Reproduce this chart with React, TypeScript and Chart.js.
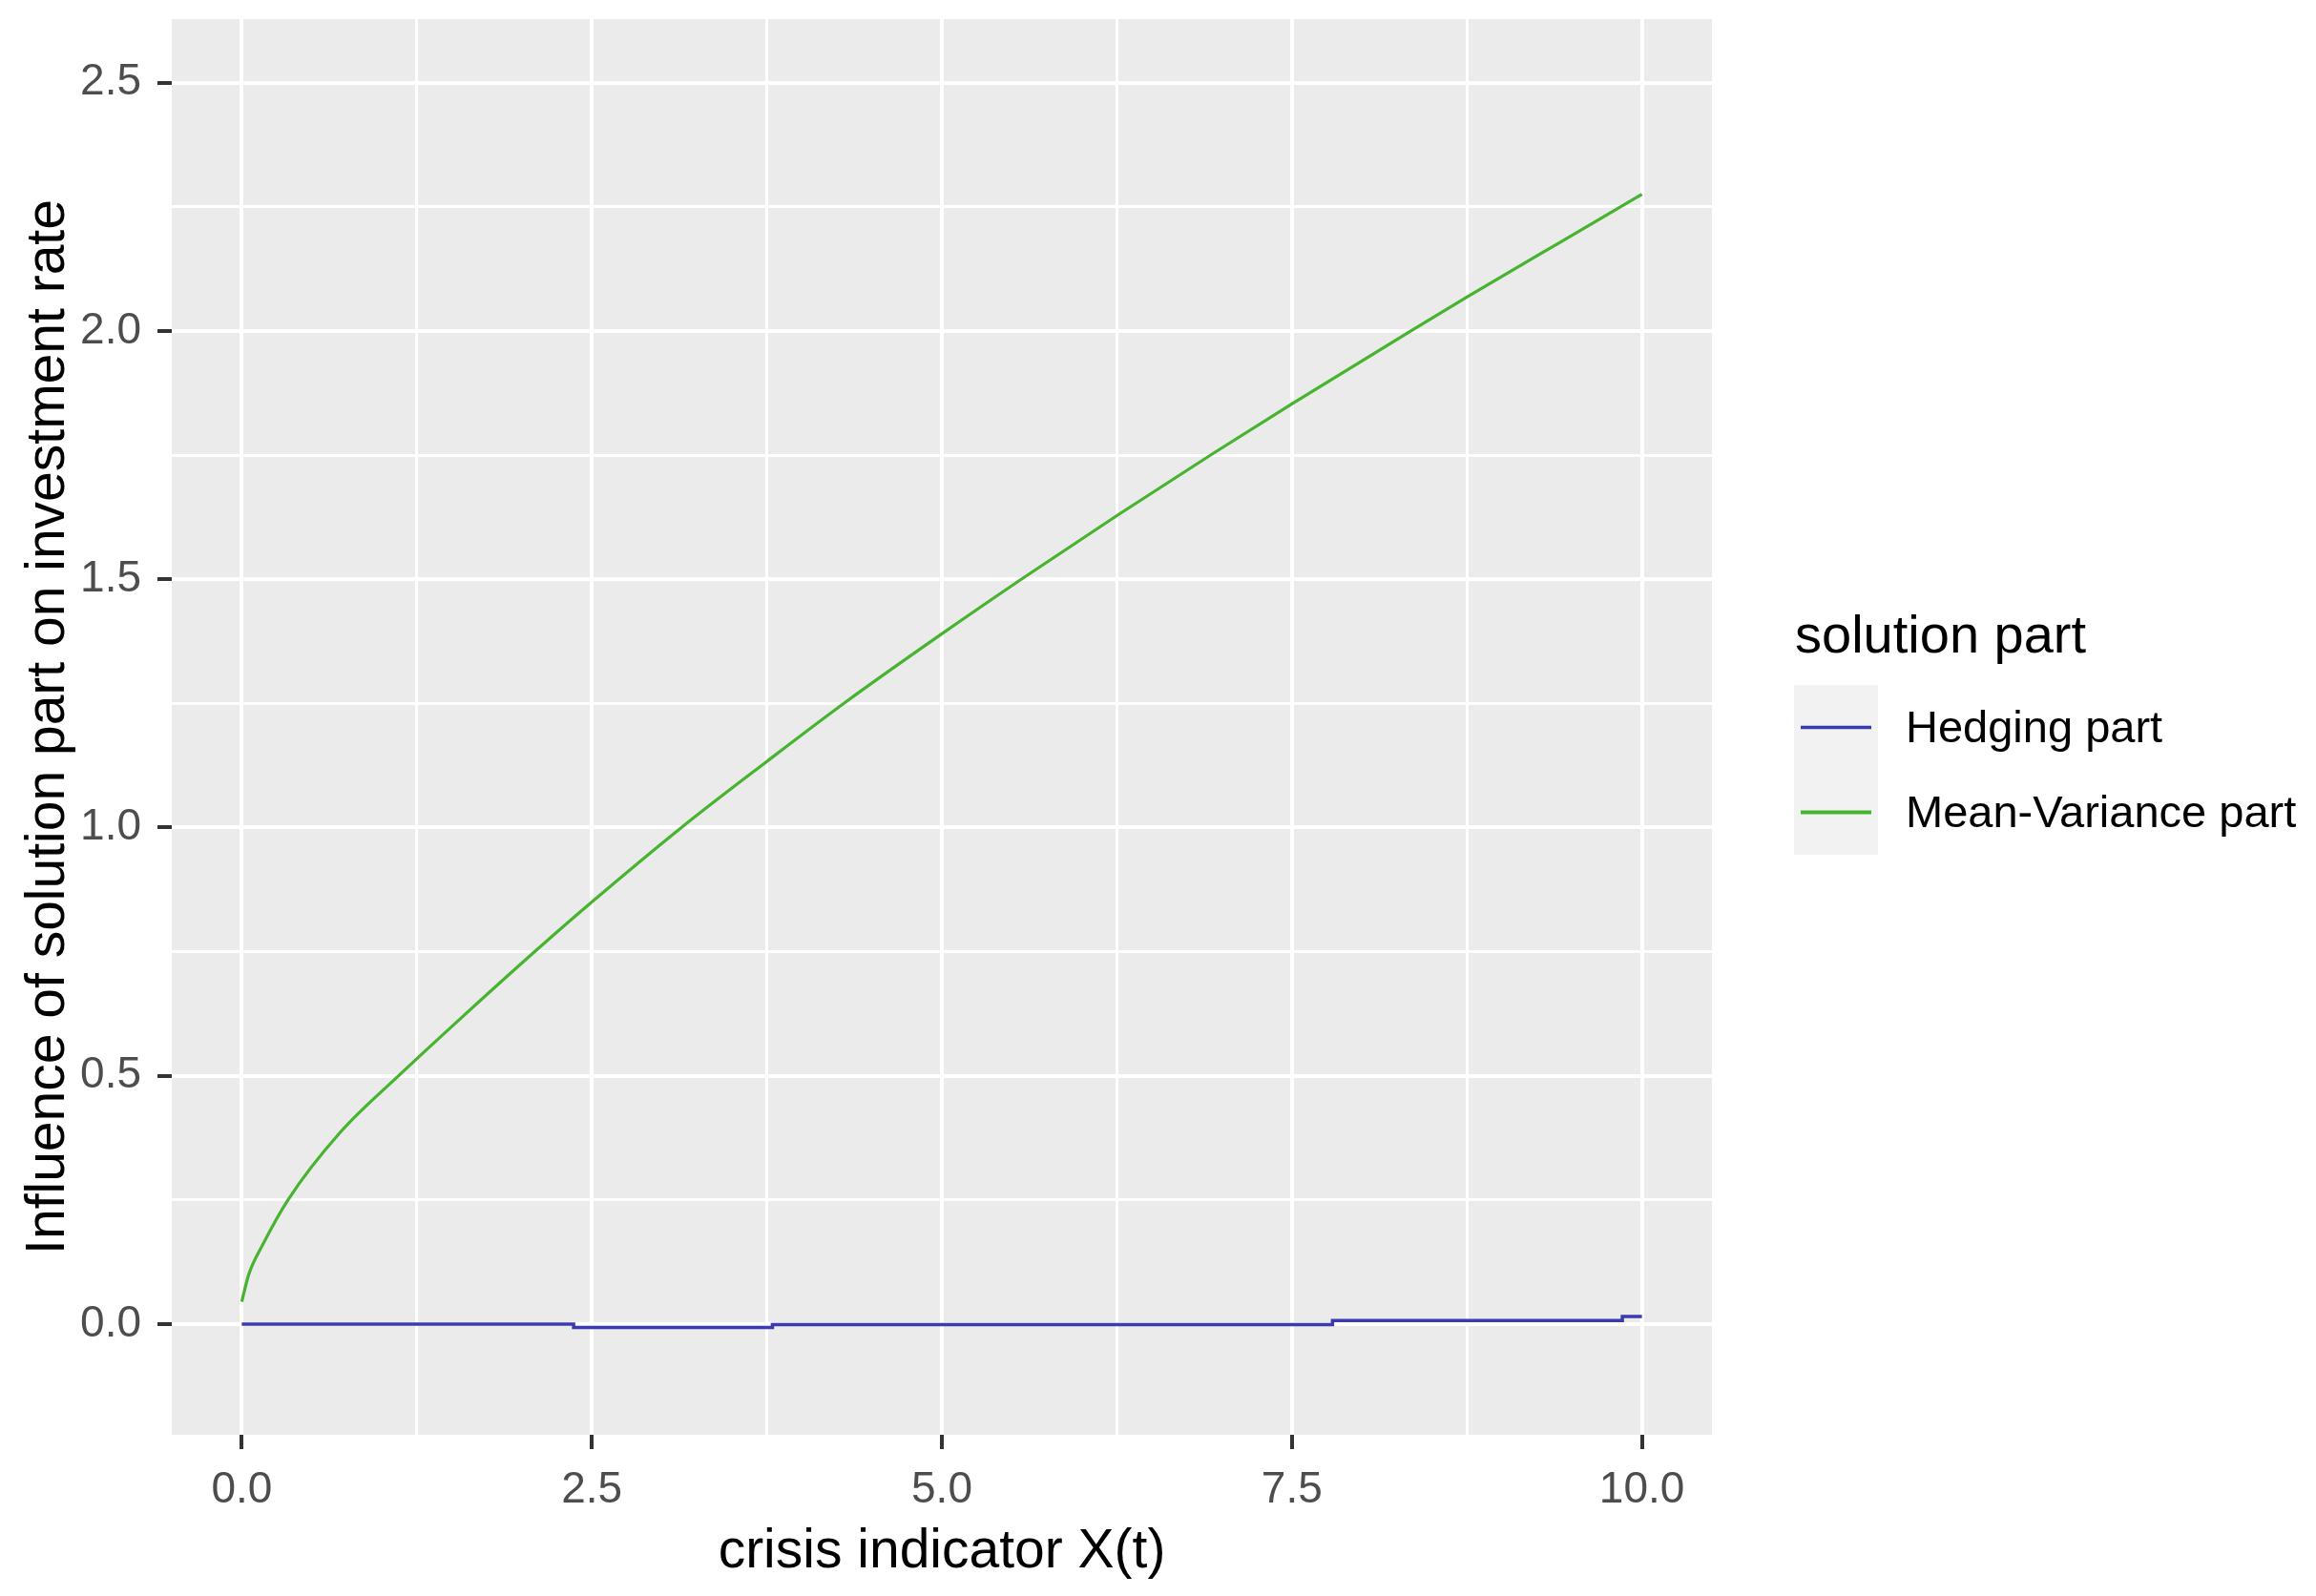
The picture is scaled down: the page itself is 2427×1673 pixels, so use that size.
import { useEffect, useRef } from 'react';
import { Chart, registerables } from 'chart.js';

Chart.register(...registerables);

// ---- data ----
const seriesNames = ['Hedging part', 'Mean-Variance part'];
const seriesColors = ['#3B3BB0', '#46B42E'];

const hedgeX = [0, 2.37, 3.79, 7.79, 9.86, 10];
const hedgeY = [0, -0.007, -0.001, 0.007, 0.015, 0.015];

const mvX = [0, 0.05, 0.15, 0.33, 0.7, 1.12, 1.6, 2.1, 2.5, 3.14, 3.75, 4.31, 5.0, 5.6, 6.25, 6.93, 7.5, 8.35, 8.75, 9.4, 10];
const mvY = [0.045, 0.1, 0.16, 0.25, 0.385, 0.5, 0.625, 0.752, 0.85, 1.0, 1.133, 1.252, 1.39, 1.506, 1.628, 1.752, 1.853, 2.0, 2.068, 2.176, 2.275];

const xMajorTicks = [0, 2.5, 5, 7.5, 10];
const xTickLabels = ['0.0', '2.5', '5.0', '7.5', '10.0'];
const xMinorTicks = [1.25, 3.75, 6.25, 8.75];

const yMajorTicks = [0, 0.5, 1, 1.5, 2, 2.5];
const yTickLabels = ['0.0', '0.5', '1.0', '1.5', '2.0', '2.5'];
const yMinorTicks = [0.25, 0.75, 1.25, 1.75, 2.25];

const xTitle = 'crisis indicator X(t)';
const yTitle = 'Influence of solution part on investment rate';
const legendTitle = 'solution part';

const FONT = "'Liberation Sans', Arial, Helvetica, sans-serif";

const idxOf = (arr: number[], v: number) => arr.findIndex((a) => Math.abs(a - v) < 1e-9);

const bgPlugin = {
  id: 'panelBg',
  beforeDraw(chart: any) {
    const { ctx, chartArea } = chart;
    ctx.save();
    ctx.fillStyle = '#EBEBEB';
    ctx.fillRect(chartArea.left, chartArea.top, chartArea.right - chartArea.left, chartArea.bottom - chartArea.top);
    ctx.restore();
  },
};

const legendPlugin = {
  id: 'ggLegend',
  afterDraw(chart: any) {
    const { ctx } = chart;
    const boxX = 1880;
    const boxY = 718;
    const keyW = 88;
    const keyH = 89;
    const n = chart.data.datasets.length;
    ctx.save();
    ctx.fillStyle = '#000000';
    ctx.font = `56px ${FONT}`;
    ctx.textBaseline = 'middle';
    ctx.textAlign = 'left';
    ctx.fillText(legendTitle, 1881, 669);
    ctx.fillStyle = '#F2F2F2';
    ctx.fillRect(boxX, boxY, keyW, keyH * n);
    chart.data.datasets.forEach((ds: any, i: number) => {
      const cy = boxY + keyH / 2 + i * keyH;
      ctx.strokeStyle = ds.borderColor;
      ctx.lineWidth = i === 0 ? 3.5 : 4;
      ctx.beginPath();
      ctx.moveTo(boxX + 7, cy);
      ctx.lineTo(boxX + keyW - 7, cy);
      ctx.stroke();
      ctx.fillStyle = '#000000';
      ctx.font = `47px ${FONT}`;
      ctx.fillText(ds.label, 1997, cy + 3);
    });
    ctx.restore();
  },
};

export default function App() {
  const ref = useRef<HTMLCanvasElement>(null);

  useEffect(() => {
    const canvas = ref.current;
    if (!canvas) return;
    const majorX = (v: number) => idxOf(xMajorTicks, v) >= 0;
    const majorY = (v: number) => idxOf(yMajorTicks, v) >= 0;

    const chart = new Chart(canvas, {
      type: 'line',
      data: {
        datasets: [
          {
            label: seriesNames[0],
            data: hedgeX.map((x, i) => ({ x, y: hedgeY[i] })),
            borderColor: seriesColors[0],
            backgroundColor: seriesColors[0],
            borderWidth: 3.5,
            pointRadius: 0,
            stepped: 'before',
            fill: false,
          },
          {
            label: seriesNames[1],
            data: mvX.map((x, i) => ({ x, y: mvY[i] })),
            borderColor: seriesColors[1],
            backgroundColor: seriesColors[1],
            borderWidth: 3.2,
            pointRadius: 0,
            cubicInterpolationMode: 'monotone',
            fill: false,
          },
        ],
      },
      options: {
        animation: false,
        responsive: false,
        devicePixelRatio: 1,
        layout: { padding: { left: 0, top: 20, right: 633, bottom: 0 } },
        plugins: {
          legend: { display: false },
          tooltip: { enabled: false },
        },
        scales: {
          x: {
            type: 'linear',
            min: -0.5,
            max: 10.5,
            afterBuildTicks: (s: any) => {
              s.ticks = [...xMajorTicks, ...xMinorTicks].sort((a, b) => a - b).map((v) => ({ value: v }));
            },
            afterFit: (s: any) => {
              s.height = 169;
              s.paddingLeft = 0;
              s.paddingRight = 0;
              s.paddingTop = 0;
              s.paddingBottom = 0;
            },
            border: { display: false },
            grid: {
              color: '#FFFFFF',
              lineWidth: (c: any) => (c.tick && majorX(c.tick.value) ? 4 : 3),
              tickColor: (c: any) => (c.tick && majorX(c.tick.value) ? '#333333' : 'rgba(0,0,0,0)'),
              tickWidth: 4,
              tickLength: 15,
              drawTicks: true,
            },
            ticks: {
              autoSkip: false,
              maxRotation: 0,
              padding: 16,
              color: '#4D4D4D',
              font: { family: FONT, size: 46 },
              callback: (v: any) => {
                const i = idxOf(xMajorTicks, Number(v));
                return i >= 0 ? xTickLabels[i] : '';
              },
            },
            title: {
              display: true,
              text: xTitle,
              color: '#000000',
              font: { family: FONT, size: 57 },
              padding: { top: 0, bottom: 12 },
            },
          },
          y: {
            type: 'linear',
            min: -0.223,
            max: 2.628,
            afterBuildTicks: (s: any) => {
              s.ticks = [...yMajorTicks, ...yMinorTicks].sort((a, b) => a - b).map((v) => ({ value: v }));
            },
            afterFit: (s: any) => {
              s.width = 180;
              s.paddingLeft = 0;
              s.paddingRight = 0;
              s.paddingTop = 0;
              s.paddingBottom = 0;
            },
            border: { display: false },
            grid: {
              color: '#FFFFFF',
              lineWidth: (c: any) => (c.tick && majorY(c.tick.value) ? 4 : 3),
              tickColor: (c: any) => (c.tick && majorY(c.tick.value) ? '#333333' : 'rgba(0,0,0,0)'),
              tickWidth: 4,
              tickLength: 15,
              drawTicks: true,
            },
            ticks: {
              autoSkip: false,
              padding: 17,
              color: '#4D4D4D',
              font: { family: FONT, size: 46 },
              callback: (v: any) => {
                const i = idxOf(yMajorTicks, Number(v));
                return i >= 0 ? yTickLabels[i] : '';
              },
            },
            title: {
              display: true,
              text: yTitle,
              color: '#000000',
              font: { family: FONT, size: 57 },
              padding: { top: 17, bottom: 0 },
            },
          },
        },
      },
      plugins: [bgPlugin, legendPlugin],
    } as any);

    return () => chart.destroy();
  }, []);

  return (
    <div style={{ position: 'fixed', left: 0, top: 0, width: 2427, height: 1673, background: '#FFFFFF' }}>
      <canvas ref={ref} width={2427} height={1673} style={{ display: 'block', width: 2427, height: 1673 }} />
    </div>
  );
}
